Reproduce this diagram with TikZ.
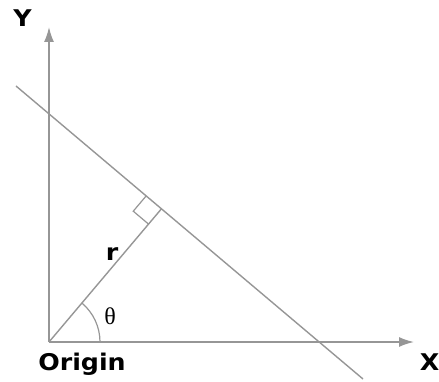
\documentclass[tikz,border=0pt]{standalone}
\usepackage{fontspec}
\setsansfont[FakeStretch=1.1]{DejaVu Sans}
\newfontfamily\thetafont{Liberation Serif}
\usetikzlibrary{calc,arrows.meta}
\definecolor{ln}{RGB}{150,150,150}
\tikzset{
  ax/.style={draw=ln, line width=1.6pt, -{Latex[length=15pt,width=10pt]}},
  gl/.style={draw=ln, line width=1.4pt},
  lbl/.style={font=\sffamily\bfseries\fontsize{23}{23}\selectfont, inner sep=0pt, anchor=base},
}
\begin{document}
\begin{tikzpicture}[x=1pt,y=1pt]
\useasboundingbox (0,0) rectangle (439,381);
\coordinate (O) at (49,39);
\coordinate (Yt) at (49,354);
\coordinate (Xt) at (414,39);
\coordinate (A) at (16,295);
\coordinate (B) at (363,2);
\coordinate (F) at ($(A)!(O)!(B)$);
\draw[ax] (O) -- (Yt);
\draw[ax] (O) -- (Xt);
\draw[gl] (A) -- (B);
\draw[gl] (O) -- (F);
\coordinate (s1) at ($(F)!20pt!(O)$);
\coordinate (s2) at ($(F)!20pt!(A)$);
\draw[gl, line width=1.2pt] (s1) -- ($(s1)+(s2)-(F)$) -- (s2);
\draw[gl, line width=1.2pt] ($(O)+(51,0)$) arc[start angle=0, end angle=49.9, radius=51];
\node[lbl] (ylab) at (22.5,354) {Y};
\node[lbl] (xlab) at (429.5,11) {X};
\node[lbl] (olab) at (82,11) {Origin};
\node[lbl] (rlab) at (112,121) {r};
\node[inner sep=0pt, font=\thetafont\fontsize{24}{24}\selectfont] (tlab) at (110,64.5) {θ};
\end{tikzpicture}
\end{document}
